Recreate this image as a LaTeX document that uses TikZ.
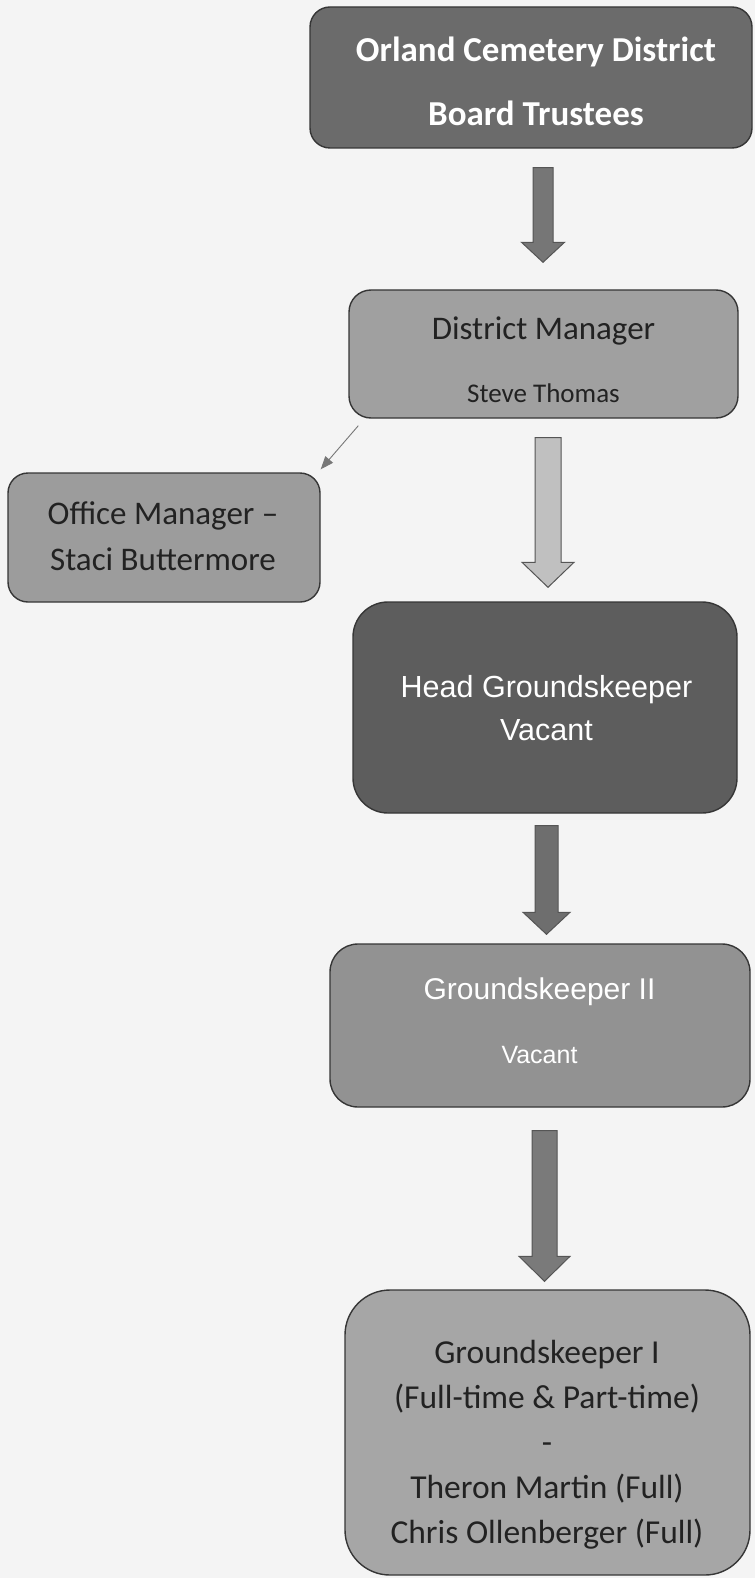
\documentclass[tikz,border=0pt]{standalone}
\usepackage{fontspec}
\setmainfont{Carlito}
\newfontfamily\arialf{Liberation Sans}
\usetikzlibrary{calc,arrows.meta}
\definecolor{bg}{HTML}{F4F4F4}
\definecolor{edge}{HTML}{363636}
\definecolor{cboard}{HTML}{6B6B6B}
\definecolor{cdm}{HTML}{A0A0A0}
\definecolor{com}{HTML}{9C9C9C}
\definecolor{chead}{HTML}{5D5D5D}
\definecolor{cgktwo}{HTML}{929292}
\definecolor{cgkone}{HTML}{A6A6A6}
\definecolor{darktext}{HTML}{222222}
\definecolor{aone}{HTML}{767676}
\definecolor{atwo}{HTML}{C0C0C0}
\definecolor{athree}{HTML}{6E6E6E}
\definecolor{afour}{HTML}{7A7A7A}
\definecolor{aedge}{HTML}{555555}
\definecolor{thinline}{HTML}{777777}
\newcommand\blockarr[6]{%
  \path[#6] let \p1=(#1), \p2=(#2) in
    (\x2-#4,\y1) -- (\x2+#4,\y1) -- (\x2+#4,\y2+#3) -- (\x2+#5,\y2+#3)
    -- (\x2,\y2) -- (\x2-#5,\y2+#3) -- (\x2-#4,\y2+#3) -- cycle;}
\begin{document}
\begin{tikzpicture}[x=1pt,y=-1pt,
  orgbox/.style={draw=edge, line width=1.4pt, inner sep=0pt, rectangle},
  txt/.style={inner sep=0pt, align=center},
  barrow/.style={draw=aedge, line width=1pt, fill=#1},
  thinarrow/.style={draw=thinline, line width=0.9pt, -{Triangle[length=13pt,width=10pt]}}
]
\fill[bg] (0,0) rectangle (755,1578);
\useasboundingbox (0,0) rectangle (755,1578);

% boxes
\node[orgbox, fill=cboard, rounded corners=20pt, minimum width=442pt, minimum height=141pt] (board) at (531,77.5) {};
\node[orgbox, fill=cdm, rounded corners=22pt, minimum width=389pt, minimum height=128pt] (dm) at (543.5,354) {};
\node[orgbox, fill=com, rounded corners=20pt, minimum width=312pt, minimum height=129pt] (om) at (164,537.5) {};
\node[orgbox, fill=chead, rounded corners=35pt, minimum width=384pt, minimum height=211pt] (head) at (545,707.5) {};
\node[orgbox, fill=cgktwo, rounded corners=28pt, minimum width=420pt, minimum height=163pt] (gktwo) at (540,1025.5) {};
\node[orgbox, fill=cgkone, rounded corners=45pt, minimum width=405pt, minimum height=285pt] (gkone) at (547.5,1432.5) {};

% texts
\node[txt, text=white, font=\fontsize{35}{64}\selectfont\bfseries] (boardt) at (536,81) {Orland Cemetery District\\Board Trustees};
\node[txt, text=darktext, font=\fontsize{33}{63}\selectfont] (dmt) at (543.5,360) {District Manager\\{\fontsize{27}{63}\selectfont Steve Thomas}};
\node[txt, text=darktext, font=\fontsize{33}{46}\selectfont] (omt) at (163,536) {Office Manager --\\Staci Buttermore};
\node[txt, text=white, font=\arialf\fontsize{30.5}{43}\selectfont] (headt) at (546.5,708) {Head Groundskeeper\\Vacant};
\node[txt, text=white, font=\arialf\fontsize{30}{64}\selectfont] (gktwot) at (539.5,1021) {Groundskeeper II\\{\fontsize{25}{64}\selectfont Vacant}};
\node[txt, text=darktext, font=\fontsize{33.5}{45}\selectfont] (gkonet) at (547,1445) {Groundskeeper I\\(Full-time \& Part-time)\\-\\Theron Martin (Full)\\Chris Ollenberger (Full)};

% connectors
\draw[thinarrow] ($(dm.south west)+(10,7)$) -- ($(om.north east)+(0,-3)$);
\blockarr{$(board.south)+(12,19)$}{$(dm.north)+(-0.5,-27)$}{20pt}{10pt}{21.5pt}{barrow=aone}
\blockarr{$(dm.south)+(4.5,19)$}{$(head.north)+(3,-14)$}{25pt}{13pt}{26pt}{barrow=atwo}
\blockarr{$(head.south)+(1.5,12)$}{$(gktwo.north)+(6.5,-9)$}{22pt}{11.5pt}{23.5pt}{barrow=athree}
\blockarr{$(gktwo.south)+(4.5,23)$}{$(gkone.north)+(-3,-8)$}{25pt}{12.5pt}{25.5pt}{barrow=afour}
\end{tikzpicture}
\end{document}
